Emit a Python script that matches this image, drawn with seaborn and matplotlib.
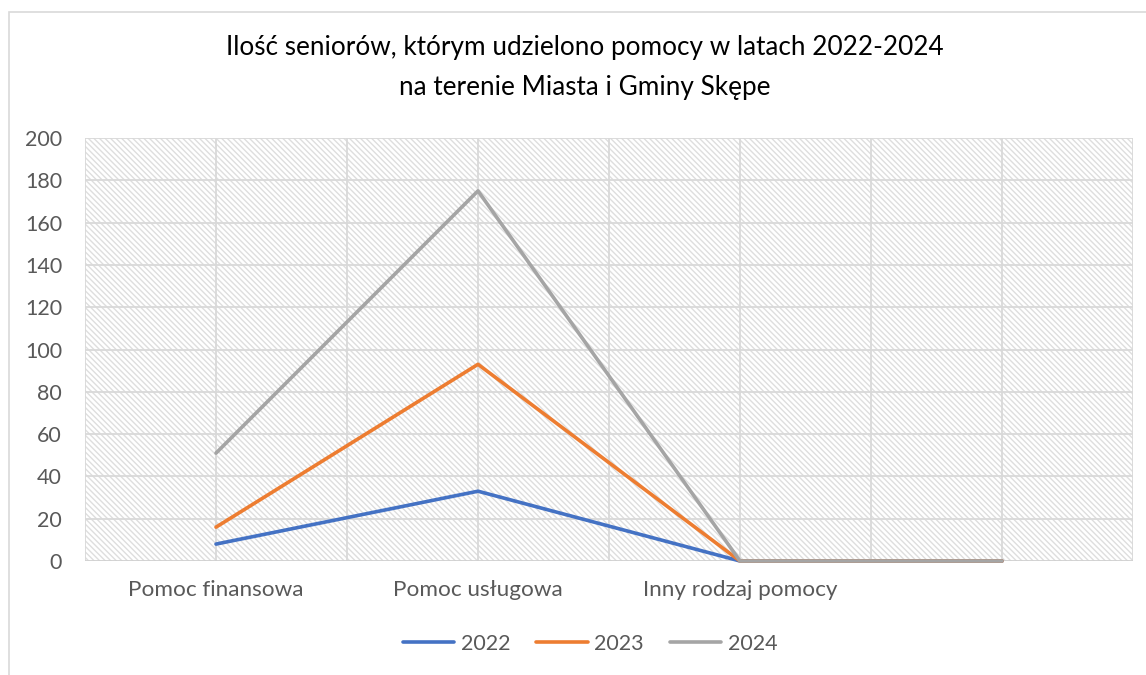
import numpy as np
import pandas as pd
import matplotlib
matplotlib.use("Agg")
import matplotlib.pyplot as plt
from matplotlib.patches import Rectangle
import seaborn as sns

categories = ["Pomoc finansowa", "Pomoc usługowa", "Inny rodzaj pomocy", ""]
years = ["2022", "2023", "2024"]
v2022 = [8, 33, 0, 0]
v2023 = [16, 93, 0, 0]
v2024 = [51, 175, 0, 0]
colors = ["#4472C4", "#ED7D31", "#A5A5A5"]

df = pd.DataFrame({
    "kategoria": categories * 3,
    "pos": list(range(len(categories))) * 3,
    "rok": [y for y in years for _ in categories],
    "wartosc": v2022 + v2023 + v2024,
})

sns.set_style("white")
plt.rcParams["font.family"] = ["Lato", "DejaVu Sans"]
plt.rcParams["hatch.linewidth"] = 1.0
plt.rcParams["hatch.color"] = "#dedede"

fig = plt.figure(figsize=(11.46, 6.75), dpi=100)
ax = fig.add_axes([85 / 1146, 1 - 561 / 675, (1133 - 85) / 1146, (561 - 138) / 675])

# hatched plot area
ax.add_patch(Rectangle((0, 0), 1, 1, transform=ax.transAxes, facecolor="white",
                       edgecolor="#dedede", hatch="\\" * 6, linewidth=0, zorder=0))

sns.lineplot(data=df, x="pos", y="wartosc", hue="rok", palette=colors,
             linewidth=2.6, ax=ax, zorder=3, sort=False)
for ln in ax.lines:
    ln.set_clip_on(False)
    ln.set_solid_capstyle("round")

ax.set_xlim(-0.5, len(categories) - 0.5)
ax.set_ylim(0, 200)
ax.set_yticks(np.arange(0, 201, 20))
ax.set_xticks(range(len(categories)))
ax.set_xticklabels(categories)
for x in np.arange(-0.5, len(categories), 0.5):
    ax.axvline(x, color="#d9d9d9", linewidth=1.3, zorder=1)
for y in np.arange(20, 201, 20):
    ax.axhline(y, color="#d9d9d9", linewidth=1.3, zorder=1)
ax.axhline(0, color="#d0d0d0", linewidth=1.3, zorder=2)

for s in ax.spines.values():
    s.set_visible(False)
ax.tick_params(axis="both", length=0, labelsize=15.5, colors="#595959")
ax.tick_params(axis="x", labelsize=16.2, pad=14)
ax.tick_params(axis="y", pad=16.5)
ax.set_xlabel("")
ax.set_ylabel("")

fig.text(585 / 1146, 1 - 48 / 675, "Ilość seniorów, którym udzielono pomocy w latach 2022-2024",
         ha="center", va="center", fontsize=18.8, color="#000000")
fig.text(585 / 1146, 1 - 88 / 675, "na terenie Miasta i Gminy Skępe",
         ha="center", va="center", fontsize=18.8, color="#000000")

handles, labels = ax.get_legend_handles_labels()
ax.legend(handles, labels, loc="center", bbox_to_anchor=(590 / 1146, 1 - 644 / 675),
          bbox_transform=fig.transFigure, ncol=3, frameon=False, fontsize=15.5,
          handlelength=2.4, handletextpad=0.3, columnspacing=1.2, labelcolor="#595959")

# outer chart border (runs off the right and bottom edges in the source)
fig.add_artist(Rectangle((9 / 1146, -0.05), 1.2, 1.05 - 12 / 675, transform=fig.transFigure,
                         fill=False, edgecolor="#d9d9d9", linewidth=1.2))

fig.savefig("out.png", dpi=100)
